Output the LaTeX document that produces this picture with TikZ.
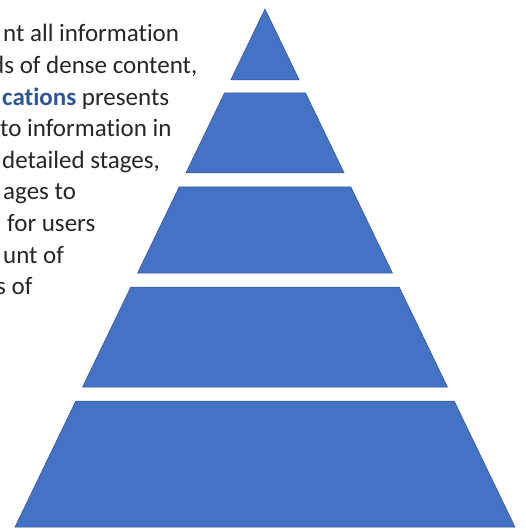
\documentclass[tikz,border=0pt]{standalone}
\usepackage{fontspec}
\setmainfont{Carlito}[Ligatures={NoCommon,NoRequired,NoContextual}]
\definecolor{pyrA}{HTML}{4472C4}
\definecolor{pyrB}{HTML}{2F528F}
\definecolor{txtA}{HTML}{262626}
\definecolor{txtB}{HTML}{2F5597}
\tikzset{
  capa/.style={fill=pyrA,draw=pyrB,line width=0.5pt,line join=miter},
  linia/.style={anchor=base west,inner sep=0pt,text=txtA,font=\fontsize{25}{30}\selectfont}
}
\begin{document}
\begin{tikzpicture}[x=1pt,y=-1pt]
\useasboundingbox (0,0) rectangle (525,529);
\clip (0,0) rectangle (525,529);
% Text retallat a l'esquerra
\foreach \i/\x/\t in {1/3/{nt all information},2/-9/{ds of dense content,},
    3/2/{\textbf{\textcolor{txtB}{cations}} presents},4/0/{to information in},
    5/2/{detailed stages,},6/3/{ages to},7/7/{for users},8/3/{unt of},9/-4/{s of}}
  \node[linia] (l\i) at (\x,{42+31.6*(\i-1)}) {\t};
% Capes de la piramide: vertex (265,9), base de 15 a 515
\foreach \a/\b [count=\n] in {9/80,93/173,187/273,287/387,401/527}{
  \pgfmathsetmacro\wa{0.48263*(\a-9)}
  \pgfmathsetmacro\wb{0.48263*(\b-9)}
  \draw[capa] (265-\wa,\a) -- (265+\wa,\a) -- (265+\wb,\b) -- (265-\wb,\b) -- cycle;
}
\end{tikzpicture}
\end{document}
